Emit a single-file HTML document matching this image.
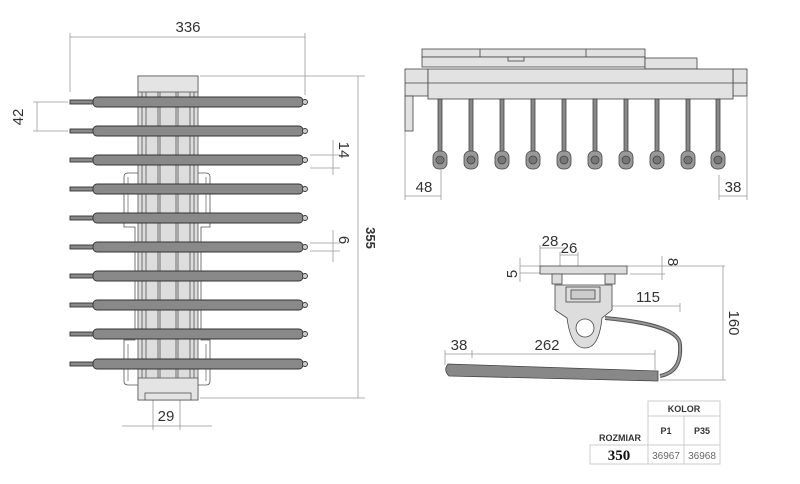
<!DOCTYPE html>
<html><head><meta charset="utf-8"><style>html,body{margin:0;padding:0;background:#fff}svg{display:block}text{font-family:"Liberation Sans",sans-serif;fill:#333}</style></head>
<body>
<svg width="800" height="484" viewBox="0 0 800 484" xmlns="http://www.w3.org/2000/svg">
<g stroke="#999" stroke-width="0.8" fill="none">
<line x1="70" y1="37" x2="305" y2="37"/><line x1="70" y1="33" x2="70" y2="92"/><line x1="305" y1="33" x2="305" y2="95"/>
<line x1="200" y1="76" x2="365" y2="76"/><line x1="200" y1="398" x2="365" y2="398"/><line x1="358" y1="76" x2="358" y2="398"/>
<line x1="37" y1="102" x2="37" y2="131"/><line x1="33" y1="102" x2="68" y2="102"/><line x1="33" y1="131" x2="68" y2="131"/>
<line x1="333" y1="140" x2="333" y2="175"/><line x1="310" y1="155" x2="340" y2="155"/><line x1="310" y1="168" x2="340" y2="168"/>
<line x1="333" y1="230" x2="333" y2="262"/><line x1="310" y1="243" x2="340" y2="243"/><line x1="310" y1="251" x2="340" y2="251"/>
<line x1="122" y1="426" x2="212" y2="426"/><line x1="153" y1="400" x2="153" y2="430"/><line x1="180" y1="400" x2="180" y2="430"/>
<line x1="405" y1="131" x2="405" y2="200"/><line x1="441" y1="170" x2="441" y2="200"/><line x1="405" y1="196" x2="441" y2="196"/>
<line x1="747" y1="96" x2="747" y2="200"/><line x1="719" y1="175" x2="719" y2="200"/><line x1="719" y1="196" x2="747" y2="196"/>
<line x1="540" y1="248" x2="567" y2="248"/><line x1="540" y1="245" x2="540" y2="266"/><line x1="560" y1="255" x2="578" y2="255"/><line x1="560" y1="252" x2="560" y2="270"/><line x1="578" y1="252" x2="578" y2="270"/>
<line x1="520" y1="266" x2="540" y2="266"/><line x1="520" y1="273" x2="540" y2="273"/><line x1="520" y1="258" x2="520" y2="282"/>
<line x1="627" y1="266" x2="725" y2="266"/><line x1="630" y1="274" x2="665" y2="274"/><line x1="662" y1="256" x2="662" y2="280"/>
<line x1="723" y1="266" x2="723" y2="380"/><line x1="660" y1="380" x2="726" y2="380"/>
<line x1="610" y1="306" x2="680" y2="306"/><line x1="680" y1="303" x2="680" y2="312"/>
<line x1="445" y1="354" x2="655" y2="354"/><line x1="445" y1="350" x2="445" y2="365"/><line x1="472" y1="350" x2="472" y2="358"/><line x1="655" y1="350" x2="655" y2="370"/>
</g>
<g stroke="#555" stroke-width="0.8">
<path d="M128 173h78q4 0 4 4v50h-9v113h9v41q0 4-4 4h-78q-4 0-4-4v-41h11v-113h-11v-50q0-4 4-4z" fill="#fff"/>
<path d="M128 177v46M206 177v46M128 344v37M206 344v37" fill="none" stroke="#777"/>
<rect x="138" y="76" width="60" height="324" fill="#ddd"/>
<rect x="138" y="76" width="60" height="16" fill="#e4e4e4"/>
<line x1="142" y1="92" x2="142" y2="380"/><line x1="146" y1="92" x2="146" y2="380"/><line x1="158" y1="92" x2="158" y2="380"/><line x1="160" y1="92" x2="160" y2="380"/><line x1="176" y1="92" x2="176" y2="380"/><line x1="178" y1="92" x2="178" y2="380"/><line x1="190" y1="92" x2="190" y2="380"/><line x1="194" y1="92" x2="194" y2="380"/>
<rect x="138" y="378" width="60" height="22" fill="#e4e4e4"/><rect x="145" y="393" width="46" height="7" fill="#e4e4e4"/>
</g>
<g stroke="#333" stroke-width="0.9" fill="#898989">
<g id="r"><rect x="70" y="100" width="24" height="4"/><rect x="93" y="97" width="210" height="10" rx="4"/><circle cx="305" cy="102" r="2.5" fill="#ccc"/></g>
<use href="#r" y="29"/><use href="#r" y="58"/><use href="#r" y="87"/><use href="#r" y="116"/><use href="#r" y="145"/><use href="#r" y="174"/><use href="#r" y="203"/><use href="#r" y="232"/><use href="#r" y="262"/>
</g>
<g stroke="#444" stroke-width="0.8" fill="#e2e2e2">
<rect x="422" y="49" width="223" height="8"/><line x1="480" y1="49" x2="480" y2="57"/><line x1="586" y1="49" x2="586" y2="57"/>
<rect x="422" y="57" width="223" height="10"/><rect x="645" y="58" width="52" height="11"/><rect x="508" y="57" width="16" height="4"/>
<rect x="405" y="69" width="23" height="27"/><rect x="733" y="69" width="14" height="27"/><rect x="405" y="96" width="8" height="35"/>
<rect x="428" y="69" width="305" height="30"/><line x1="428" y1="83" x2="733" y2="83"/><line x1="405" y1="83" x2="428" y2="83"/><line x1="733" y1="83" x2="747" y2="83"/>
</g>
<g stroke="#444" stroke-width="0.8">
<g id="h"><rect x="438" y="99" width="4" height="60" fill="#888"/><rect x="433" y="151" width="14" height="18" rx="6" fill="#999"/><circle cx="440" cy="160" r="4" fill="#777"/></g>
<use href="#h" x="31"/><use href="#h" x="62"/><use href="#h" x="93"/><use href="#h" x="124"/><use href="#h" x="155"/><use href="#h" x="186"/><use href="#h" x="217"/><use href="#h" x="248"/><use href="#h" x="278"/>
</g>
<g stroke="#444" stroke-width="0.8">
<path d="M605 318 Q680 325 680 345 Q682 372 660 376" fill="none" stroke="#555" stroke-width="4"/>
<path d="M605 318 Q680 325 680 345 Q682 372 660 376" fill="none" stroke="#999" stroke-width="2"/>
<rect x="540" y="266" width="87" height="8" fill="#ddd"/>
<path d="M552 274h10v10h-10z M605 274h10v10h-10z" fill="#ddd"/>
<path d="M555 285h57v25l-10 8q-3 30 -17 30q-14 0 -18-30l-12-8z" fill="#ddd"/>
<circle cx="585" cy="328" r="9" fill="#fff"/>
<rect x="566" y="287" width="34" height="15" fill="#ddd"/><rect x="571" y="290" width="24" height="9" fill="#ccc"/>
<path d="M448 364 L658 371 L658 381 L449 376 Q443 370 448 364z" fill="#888"/>
</g>
<g font-size="15">
<text x="188" y="32" text-anchor="middle">336</text>
<text x="166" y="421" text-anchor="middle">29</text>
<text x="424" y="192" text-anchor="middle">48</text>
<text x="733" y="192" text-anchor="middle">38</text>
<text x="550" y="246" text-anchor="middle">28</text>
<text x="569" y="253" text-anchor="middle">26</text>
<text x="648" y="302" text-anchor="middle">115</text>
<text x="459" y="350" text-anchor="middle">38</text>
<text x="547" y="350" text-anchor="middle">262</text>
<text transform="translate(23,117) rotate(-90)" text-anchor="middle">42</text>
<text transform="translate(339,150) rotate(90)" text-anchor="middle">14</text>
<text transform="translate(339,240) rotate(90)" text-anchor="middle">6</text>
<text transform="translate(366,238) rotate(90)" text-anchor="middle" font-weight="bold" font-size="13">355</text>
<text transform="translate(517,274) rotate(-90)" text-anchor="middle">5</text>
<text transform="translate(668,262) rotate(90)" text-anchor="middle">8</text>
<text transform="translate(729,323) rotate(90)" text-anchor="middle">160</text>
</g>
<g stroke="#ccc" stroke-width="1" fill="none">
<rect x="648" y="401" width="72" height="15"/><rect x="648" y="416" width="36" height="29"/><rect x="684" y="416" width="36" height="29"/>
<rect x="590" y="445" width="58" height="19"/><rect x="648" y="445" width="36" height="19"/><rect x="684" y="445" width="36" height="19"/>
</g>
<g font-size="9" font-weight="bold" text-anchor="middle">
<text x="684" y="412">KOLOR</text><text x="666" y="434">P1</text><text x="702" y="434">P35</text><text x="620" y="441">ROZMIAR</text>
</g>
<text x="619" y="460" text-anchor="middle" font-weight="bold" font-size="15" style="font-family:'Liberation Serif',serif;fill:#111">350</text>
<g font-size="10" text-anchor="middle"><text x="666" y="459" style="fill:#666">36967</text><text x="702" y="459" style="fill:#666">36968</text></g>
</svg>
</body></html>
